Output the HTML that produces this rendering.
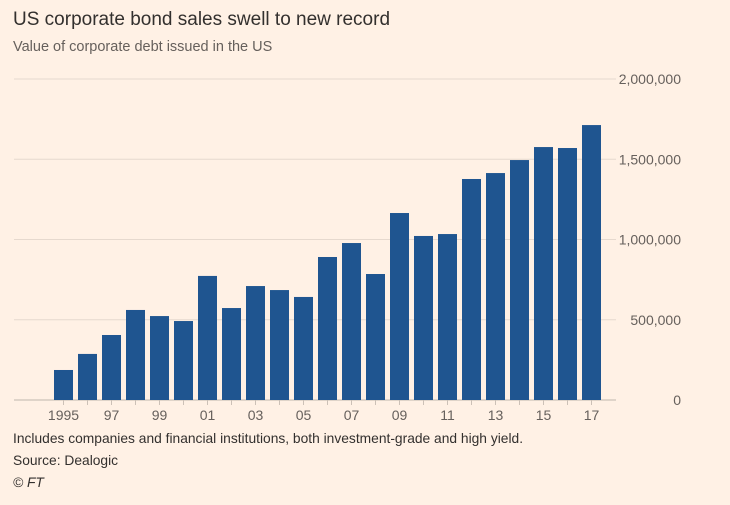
<!DOCTYPE html>
<html><head><meta charset="utf-8"><style>
body{margin:0;background:#fff1e5;font-family:"Liberation Sans",sans-serif;}
#c{position:relative;width:730px;height:500px;}
</style></head><body>
<div id="c">
<svg width="730" height="500">
<text x="13" y="25" font-size="19" fill="#33302e">US corporate bond sales swell to new record</text>
<text x="13" y="51" font-size="14.5" fill="#66605c">Value of corporate debt issued in the US</text>
<g id="grid"></g>
<g id="bars"></g>
<g id="xax"></g>
<text x="13" y="443" font-size="13.8" fill="#33302e">Includes companies and financial institutions, both investment-grade and high yield.</text>
<text x="13" y="465" font-size="13.8" fill="#33302e">Source: Dealogic</text>
<text x="13" y="487" font-size="13.8" font-style="italic" fill="#33302e">© FT</text>
</svg></div>
<script>
const years=[1995,1996,1997,1998,1999,2000,2001,2002,2003,2004,2005,2006,2007,2008,2009,2010,2011,2012,2013,2014,2015,2016,2017];
const values=[187000,287000,405000,561000,523000,492000,773000,573000,710000,685000,642000,891000,978000,785000,1165000,1022000,1034000,1377000,1414000,1495000,1576000,1570000,1713000];
const yTicks=[0,500000,1000000,1500000,2000000];
const yTickLabels=["0","500,000","1,000,000","1,500,000","2,000,000"];
const NS="http://www.w3.org/2000/svg";
const y0=400,y1=79,yMax=2000000;
function y(v){return y0-(v/yMax)*(y0-y1);}
function x(i){return 54+i*24;}
const bw=19;
function mk(t,a,p){const e=document.createElementNS(NS,t);for(const k in a)e.setAttribute(k,a[k]);p.appendChild(e);return e;}
const g=document.getElementById('grid');
yTicks.forEach((v,i)=>{
 const l=mk('line',{x1:14,x2:616,y1:y(v),y2:y(v),stroke:v===0?'#bfb6ad':'#e6d9ce','stroke-width':1},g);
 
 
 const t=mk('text',{x:681,y:y(v)+5,'text-anchor':'end','font-size':14,fill:'#66605c'},g);
 t.textContent=yTickLabels[i];
 
 
});
const b=document.getElementById('bars');
values.forEach((v,i)=>{
 const r=mk('rect',{x:x(i),y:y(v),width:bw,height:y0-y(v),fill:'#1f5590'},b);
 
 
});
const xa=document.getElementById('xax');
years.forEach((yr,i)=>{
 const cx=x(i)+bw/2;
 const tk=mk('line',{x1:cx,x2:cx,y1:y0,y2:y0+5,stroke:'#ccc1b7'},xa);
 
 
 if(i%2===0){
  const t=mk('text',{x:cx,y:y0+20,'text-anchor':'middle','font-size':14,fill:'#66605c'},xa);
  t.textContent=i===0?String(yr):String(yr).slice(2);
  
  
 }
});
</script>
</body></html>
